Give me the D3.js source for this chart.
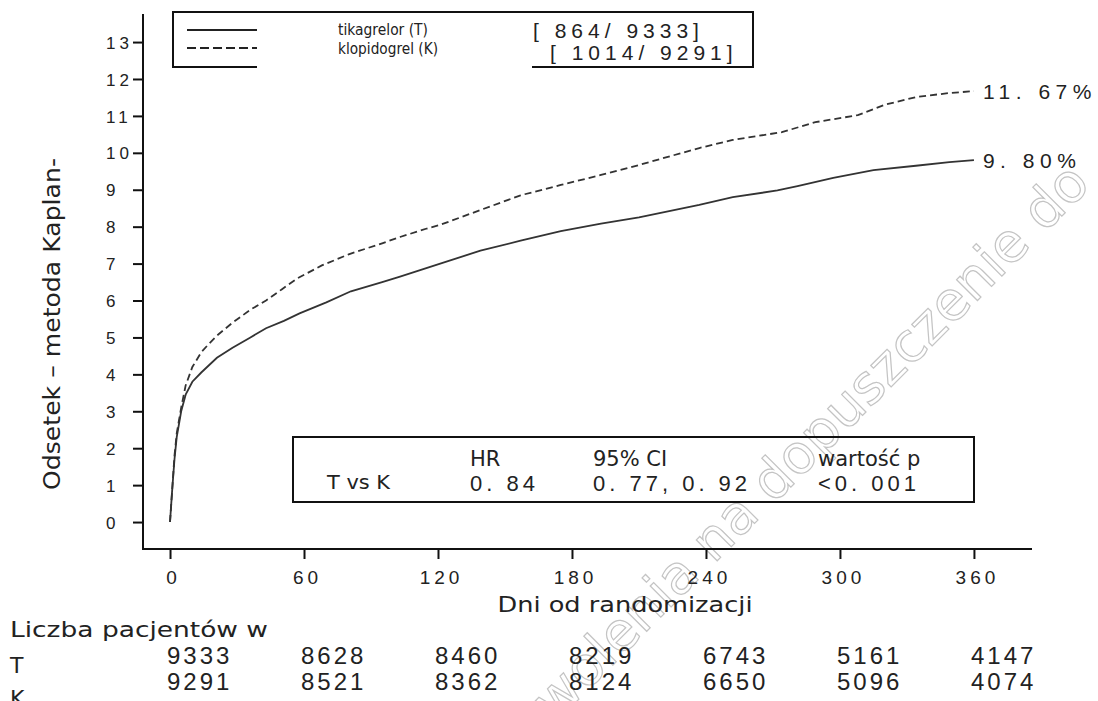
<!DOCTYPE html>
<html>
<head>
<meta charset="utf-8">
<script src="https://cdn.jsdelivr.net/npm/d3@7"></script>
<style>
  body { margin: 0; background: #fff; }
  svg { display: block; }
  text { fill: #222; }
</style>
</head>
<body>
<svg id="chart"></svg>
<script>
// Kaplan-Meier curves (days, percent)
const daysT = [0, 1, 2, 3, 5, 7, 10, 14, 21, 28, 36, 43, 51, 58, 70, 81, 95, 103, 121, 139, 157, 175, 193, 210, 237, 252, 272, 281, 297, 315, 334, 349, 360];
const pctT  = [0, 0.9, 1.7, 2.3, 3.0, 3.45, 3.8, 4.05, 4.45, 4.72, 5.0, 5.25, 5.45, 5.65, 5.95, 6.25, 6.5, 6.65, 7.0, 7.35, 7.62, 7.88, 8.08, 8.25, 8.59, 8.8, 8.98, 9.1, 9.32, 9.53, 9.65, 9.75, 9.80];

const daysK = [0, 1, 2, 3, 5, 7, 10, 14, 17, 21, 28, 36, 43, 50, 57, 68, 80, 95, 103, 115, 121, 139, 157, 175, 193, 210, 237, 252, 274, 289, 308, 320, 334, 349, 360];
const pctK  = [0, 0.9, 1.8, 2.4, 3.1, 3.7, 4.2, 4.6, 4.8, 5.05, 5.4, 5.75, 6.0, 6.3, 6.6, 6.95, 7.25, 7.55, 7.72, 7.95, 8.05, 8.45, 8.85, 9.13, 9.4, 9.67, 10.13, 10.35, 10.56, 10.83, 11.02, 11.3, 11.51, 11.62, 11.67];

const xTicks = [0, 60, 120, 180, 240, 300, 360];
const yTicks = [0, 1, 2, 3, 4, 5, 6, 7, 8, 9, 10, 11, 12, 13];

const atRiskT = [9333, 8628, 8460, 8219, 6743, 5161, 4147];
const atRiskK = [9291, 8521, 8362, 8124, 6650, 5096, 4074];

const endLabels = ['9. 80%', '11. 67%'];
const legendNames = ['tikagrelor (T)', 'klopidogrel (K)'];
const legendCounts = ['[ 864/ 9333]', '[ 1014/ 9291]'];
const boxHeads = ['HR', '95% CI', 'wartość p'];
const boxValues = ['0. 84', '0. 77, 0. 92', '<0. 001'];

const width = 1098, height = 701;
const numFont = '"Liberation Sans", Arial, sans-serif';
const txtFont = '"DejaVu Sans", sans-serif';

const svg = d3.select('#chart').attr('width', width).attr('height', height);

const x = d3.scaleLinear().domain([-12.1, 386]).range([143, 1032]);
const y = d3.scaleLinear().domain([-0.73, 13.76]).range([549, 14]);

// watermark
svg.append('text')
  .attr('transform', 'translate(1092,186) rotate(-45)')
  .attr('text-anchor', 'end')
  .attr('font-family', txtFont)
  .attr('font-size', 54)
  .style('fill', 'none')
  .attr('stroke', '#c4c4c4')
  .attr('stroke-width', 1.2)
  .text('pozwolenia na dopuszczenie do');

// axes
const yAxis = d3.axisLeft(y).tickValues(yTicks).tickSize(10).tickFormat(d3.format('d'));
const gy = svg.append('g').attr('transform', 'translate(143,0)').call(yAxis);
gy.select('.domain').remove();
gy.selectAll('line').attr('stroke', '#111').attr('stroke-width', 2);
gy.selectAll('text')
  .attr('text-anchor', 'start').attr('x', -37).attr('dy', '0.36em')
  .attr('font-family', numFont).attr('font-size', 17)
  .style('letter-spacing', '4px').style('fill', '#222');

const xAxis = d3.axisBottom(x).tickValues(xTicks).tickSize(10);
const gx = svg.append('g').attr('transform', 'translate(0,549)').call(xAxis);
gx.select('.domain').remove();
gx.selectAll('line').attr('stroke', '#111').attr('stroke-width', 2);
gx.selectAll('text')
  .attr('y', 22).attr('dy', '0.71em').attr('dx', 3)
  .attr('font-family', numFont).attr('font-size', 19)
  .style('letter-spacing', '4px').style('fill', '#222');

svg.append('path')
  .attr('d', `M143,${y.range()[1]}V549H1032`)
  .attr('fill', 'none').attr('stroke', '#111').attr('stroke-width', 2);

// curves
const line = d3.line().x(d => x(d[0])).y(d => y(d[1]));
svg.append('path')
  .datum(d3.zip(daysT, pctT))
  .attr('d', line)
  .attr('fill', 'none').attr('stroke', '#333').attr('stroke-width', 1.8);
svg.append('path')
  .datum(d3.zip(daysK, pctK))
  .attr('d', line)
  .attr('fill', 'none').attr('stroke', '#333').attr('stroke-width', 1.8)
  .attr('stroke-dasharray', '7,4');

// end labels
svg.selectAll('.endlab')
  .data([pctT[pctT.length - 1], pctK[pctK.length - 1]])
  .enter().append('text')
  .attr('x', x(360) + 9)
  .attr('y', d => y(d))
  .attr('dy', '0.36em')
  .attr('font-family', numFont).attr('font-size', 21)
  .style('letter-spacing', '5.5px')
  .text((d, i) => endLabels[i]);

// legend box
svg.append('path')
  .attr('d', 'M257,67H173V12H753V67H532')
  .attr('fill', 'none').attr('stroke', '#111').attr('stroke-width', 2);
svg.append('line').attr('x1', 187).attr('x2', 257).attr('y1', 30).attr('y2', 30)
  .attr('stroke', '#222').attr('stroke-width', 2);
svg.append('line').attr('x1', 187).attr('x2', 257).attr('y1', 48).attr('y2', 48)
  .attr('stroke', '#222').attr('stroke-width', 2).attr('stroke-dasharray', '9,4');
svg.selectAll('.legname').data(legendNames).enter().append('text')
  .attr('x', 338).attr('y', (d, i) => 35 + i * 19)
  .attr('font-family', txtFont).attr('font-size', 15)
  .attr('textLength', (d, i) => i ? 100 : 90).attr('lengthAdjust', 'spacingAndGlyphs')
  .text(d => d);
svg.selectAll('.legcount').data(legendCounts).enter().append('text')
  .attr('x', (d, i) => 533 + i * 17).attr('y', (d, i) => 38 + i * 22)
  .attr('font-family', numFont).attr('font-size', 21)
  .style('letter-spacing', '5px')
  .text(d => d);

// HR box
svg.append('rect').attr('x', 293).attr('y', 437).attr('width', 681).attr('height', 65)
  .attr('fill', 'none').attr('stroke', '#111').attr('stroke-width', 2);
const colX = [470, 593, 818];
svg.selectAll('.bhead').data(boxHeads).enter().append('text')
  .attr('x', (d, i) => colX[i]).attr('y', 466)
  .attr('font-family', txtFont).attr('font-size', 21)
  .text(d => d);
svg.selectAll('.bval').data(boxValues).enter().append('text')
  .attr('x', (d, i) => colX[i]).attr('y', 491)
  .attr('font-family', numFont).attr('font-size', 22)
  .style('letter-spacing', '4px')
  .text(d => d);
svg.append('text').attr('x', 327).attr('y', 489)
  .attr('font-family', txtFont).attr('font-size', 19)
  .attr('textLength', 63).attr('lengthAdjust', 'spacingAndGlyphs')
  .text('T vs K');

// axis titles
svg.append('text')
  .attr('transform', 'translate(60,324) rotate(-90)')
  .attr('text-anchor', 'middle')
  .attr('font-family', txtFont).attr('font-size', 23)
  .attr('textLength', 332).attr('lengthAdjust', 'spacingAndGlyphs')
  .text('Odsetek – metoda Kaplan-');
svg.append('text')
  .attr('x', 625).attr('y', 612)
  .attr('text-anchor', 'middle')
  .attr('font-family', txtFont).attr('font-size', 22)
  .attr('textLength', 255).attr('lengthAdjust', 'spacingAndGlyphs')
  .text('Dni od randomizacji');

// numbers at risk
svg.append('text').attr('x', 10).attr('y', 637)
  .attr('font-family', txtFont).attr('font-size', 22)
  .attr('textLength', 258).attr('lengthAdjust', 'spacingAndGlyphs')
  .text('Liczba pacjentów w');
svg.append('text').attr('x', 10).attr('y', 673)
  .attr('font-family', txtFont).attr('font-size', 22).text('T');
svg.append('text').attr('x', 10).attr('y', 706)
  .attr('font-family', txtFont).attr('font-size', 22).text('K');

[atRiskT, atRiskK].forEach((row, r) => {
  svg.selectAll('.risk' + r).data(row).enter().append('text')
    .attr('x', (d, i) => x(xTicks[i]) - 3)
    .attr('y', 664 + r * 26)
    .attr('font-family', numFont).attr('font-size', 24)
    .style('letter-spacing', '3px')
    .text(d => d);
});
</script>
</body>
</html>
